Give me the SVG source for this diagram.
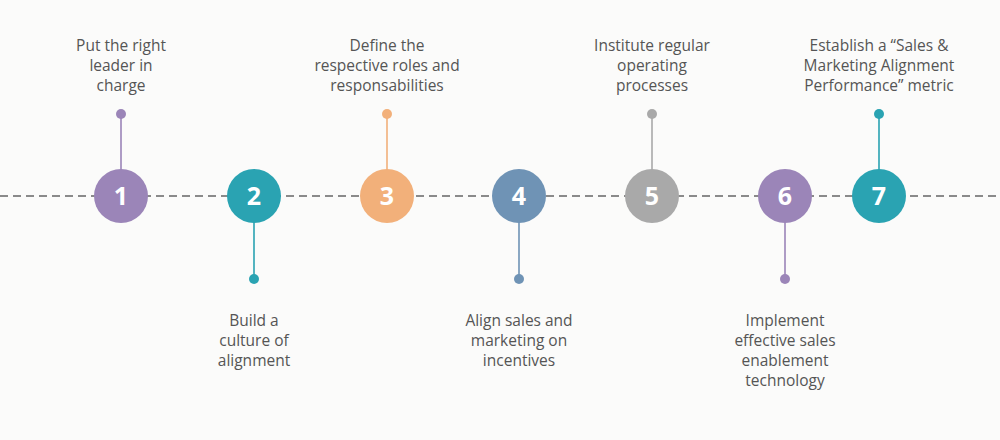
<svg xmlns="http://www.w3.org/2000/svg" width="1000" height="440" viewBox="0 0 1000 440">
<style>
.lbl{font-family:"Open Sans","Noto Sans","Liberation Sans",sans-serif;font-size:15.5px;fill:#555;text-anchor:middle}
.num{font-family:"Open Sans","Noto Sans","Liberation Sans",sans-serif;font-size:25px;font-weight:bold;fill:#fff;text-anchor:middle}
.stem{stroke-width:1.6}
</style>
<rect width="1000" height="440" fill="#fbfbfa"/>
<g id="connectors">
<line x1="0" y1="196" x2="1000" y2="196" stroke="#666" stroke-width="1.6" stroke-dasharray="8,5"/>
<line class="stem" x1="121" y1="114" x2="121" y2="170" stroke="#9b85b8"/>
<line class="stem" x1="254" y1="222" x2="254" y2="279" stroke="#2aa3b2"/>
<line class="stem" x1="387" y1="114" x2="387" y2="170" stroke="#f2b07a"/>
<line class="stem" x1="519" y1="222" x2="519" y2="279" stroke="#6f93b5"/>
<line class="stem" x1="652" y1="114" x2="652" y2="170" stroke="#a9a9a9"/>
<line class="stem" x1="785" y1="222" x2="785" y2="279" stroke="#9b85b8"/>
<line class="stem" x1="879" y1="114" x2="879" y2="170" stroke="#2aa3b2"/>
<circle cx="121" cy="114" r="5" fill="#9b85b8"/>
<circle cx="254" cy="279" r="5" fill="#2aa3b2"/>
<circle cx="387" cy="114" r="5" fill="#f2b07a"/>
<circle cx="519" cy="279" r="5" fill="#6f93b5"/>
<circle cx="652" cy="114" r="5" fill="#a9a9a9"/>
<circle cx="785" cy="279" r="5" fill="#9b85b8"/>
<circle cx="879" cy="114" r="5" fill="#2aa3b2"/>
</g>
<g id="node1">
<circle cx="121" cy="196" r="27" fill="#9b85b8"/>
<text class="num" x="121" y="205">1</text>
<text class="lbl" x="121" y="51">Put the right</text>
<text class="lbl" x="121" y="71">leader in</text>
<text class="lbl" x="121" y="91">charge</text>
</g>
<g id="node2">
<circle cx="254" cy="196" r="27" fill="#2aa3b2"/>
<text class="num" x="254" y="205">2</text>
<text class="lbl" x="254" y="326">Build a</text>
<text class="lbl" x="254" y="346">culture of</text>
<text class="lbl" x="254" y="366">alignment</text>
</g>
<g id="node3">
<circle cx="387" cy="196" r="27" fill="#f2b07a"/>
<text class="num" x="387" y="205">3</text>
<text class="lbl" x="387" y="51">Define the</text>
<text class="lbl" x="387" y="71">respective roles and</text>
<text class="lbl" x="387" y="91">responsabilities</text>
</g>
<g id="node4">
<circle cx="519" cy="196" r="27" fill="#6f93b5"/>
<text class="num" x="519" y="205">4</text>
<text class="lbl" x="519" y="326">Align sales and</text>
<text class="lbl" x="519" y="346">marketing on</text>
<text class="lbl" x="519" y="366">incentives</text>
</g>
<g id="node5">
<circle cx="652" cy="196" r="27" fill="#a9a9a9"/>
<text class="num" x="652" y="205">5</text>
<text class="lbl" x="652" y="51">Institute regular</text>
<text class="lbl" x="652" y="71">operating</text>
<text class="lbl" x="652" y="91">processes</text>
</g>
<g id="node6">
<circle cx="785" cy="196" r="27" fill="#9b85b8"/>
<text class="num" x="785" y="205">6</text>
<text class="lbl" x="785" y="326">Implement</text>
<text class="lbl" x="785" y="346">effective sales</text>
<text class="lbl" x="785" y="366">enablement</text>
<text class="lbl" x="785" y="386">technology</text>
</g>
<g id="node7">
<circle cx="879" cy="196" r="27" fill="#2aa3b2"/>
<text class="num" x="879" y="205">7</text>
<text class="lbl" x="879" y="51">Establish a “Sales &amp;</text>
<text class="lbl" x="879" y="71">Marketing Alignment</text>
<text class="lbl" x="879" y="91">Performance” metric</text>
</g>
</svg>
